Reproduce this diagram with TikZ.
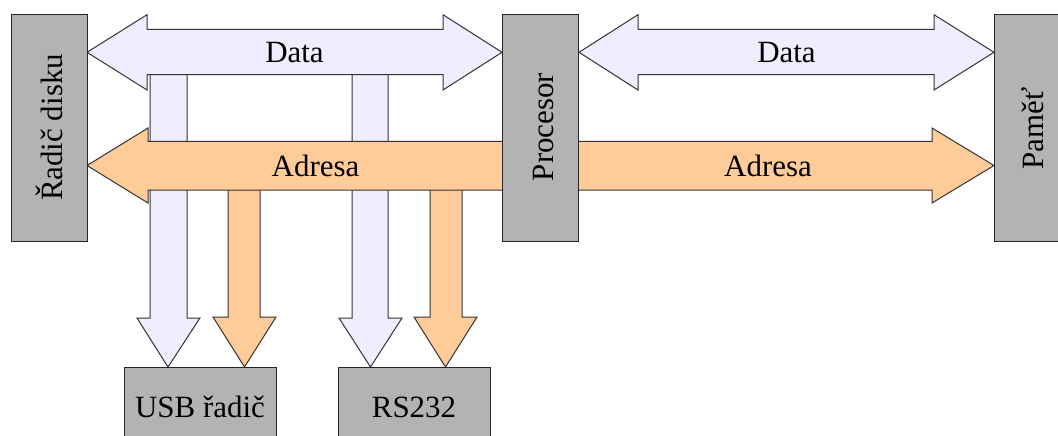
\documentclass[tikz,border=0pt]{standalone}
\usepackage{fontspec}
\setmainfont{Liberation Serif}
\definecolor{databg}{HTML}{EEEEFF}
\definecolor{addrbg}{HTML}{FFCC99}
\definecolor{unitbg}{HTML}{B3B3B3}
\begin{document}
\begin{tikzpicture}[x=0.75pt,y=-0.75pt,
  lbl/.style={font=\fontsize{23.2}{28}\selectfont, inner sep=0pt},
  databus/.style={fill=databg, draw=black!80, line width=0.75pt, line join=miter},
  addrbus/.style={fill=addrbg, draw=black!80, line width=0.75pt, line join=miter},
  unit/.style={fill=unitbg, draw=black!85, line width=0.75pt, inner sep=0pt},
  tallunit/.style={unit, minimum width=57pt, minimum height=170.25pt},
  lowunit/.style={unit, minimum width=114pt, minimum height=58.5pt}]
\useasboundingbox (0,0) rectangle (1058,436);
\clip (0,0) rectangle (1058,436);

% tip points of the downward branches
\coordinate (usbD) at (168,367);
\coordinate (usbA) at (244.5,367);
\coordinate (rsD)  at (370.5,367);
\coordinate (rsA)  at (445.5,367);

% downward branches to the peripherals (drawn first, buses lie over them)
\draw[databus] (150,70) -- (187,70) -- (187,318) -- (200,318) -- (usbD)
  -- (137,318) -- (150,318) -- cycle;
\draw[addrbus] (228,185) -- (260,185) -- (260,317) -- (276,317) -- (usbA)
  -- (213,317) -- (228,317) -- cycle;
\draw[databus] (352,70) -- (388,70) -- (388,318) -- (402,318) -- (rsD)
  -- (339,318) -- (352,318) -- cycle;
\draw[addrbus] (430,185) -- (462,185) -- (462,317) -- (477,317) -- (rsA)
  -- (414,317) -- (430,317) -- cycle;

% data buses
\draw[databus] (87,52.3) -- (147,14.7) -- (147,29.3) -- (443,29.3) -- (443,14.7)
  -- (502,52.3) -- (443,90) -- (443,74.7) -- (147,74.7) -- (147,90) -- cycle;
\draw[databus] (579,52.3) -- (638,14.7) -- (638,29.3) -- (934,29.3) -- (934,14.7)
  -- (994,52.3) -- (934,90) -- (934,74.7) -- (638,74.7) -- (638,90) -- cycle;

% address bus
\draw[addrbus] (87,165.5) -- (148,128) -- (148,141.3) -- (932,141.3) -- (932,128)
  -- (994,165.5) -- (932,203) -- (932,190) -- (148,190) -- (148,203) -- cycle;

% bus labels
\node[lbl, anchor=base] (d1) at (294.5,62) {Data};
\node[lbl, anchor=base] (d2) at (786.5,62) {Data};
\node[lbl, anchor=base] (a1) at (315.5,176) {Adresa};
\node[lbl, anchor=base] (a2) at (768,176) {Adresa};

% units
\node[tallunit] (disk) at (49,127.5) {};
\node[tallunit] (cpu)  at (540.5,127.5) {};
\node[tallunit] (mem)  at (1032.5,127.5) {};
\node[lowunit]  (usb)  at (200,406) {};
\node[lowunit]  (rs)   at (414,406) {};

\node[lbl, rotate=90, anchor=base] (diskt) at (62,127.5) {Řadič disku};
\node[lbl, rotate=90, anchor=base] (cput)  at (553,127) {Procesor};
\node[lbl, rotate=90, anchor=base] (memt)  at (1043,128.5) {Paměť};
\node[lbl, anchor=base] (usbt) at (200,417) {USB řadič};
\node[lbl, anchor=base] (rst)  at (414,417) {RS232};
\end{tikzpicture}
\end{document}
